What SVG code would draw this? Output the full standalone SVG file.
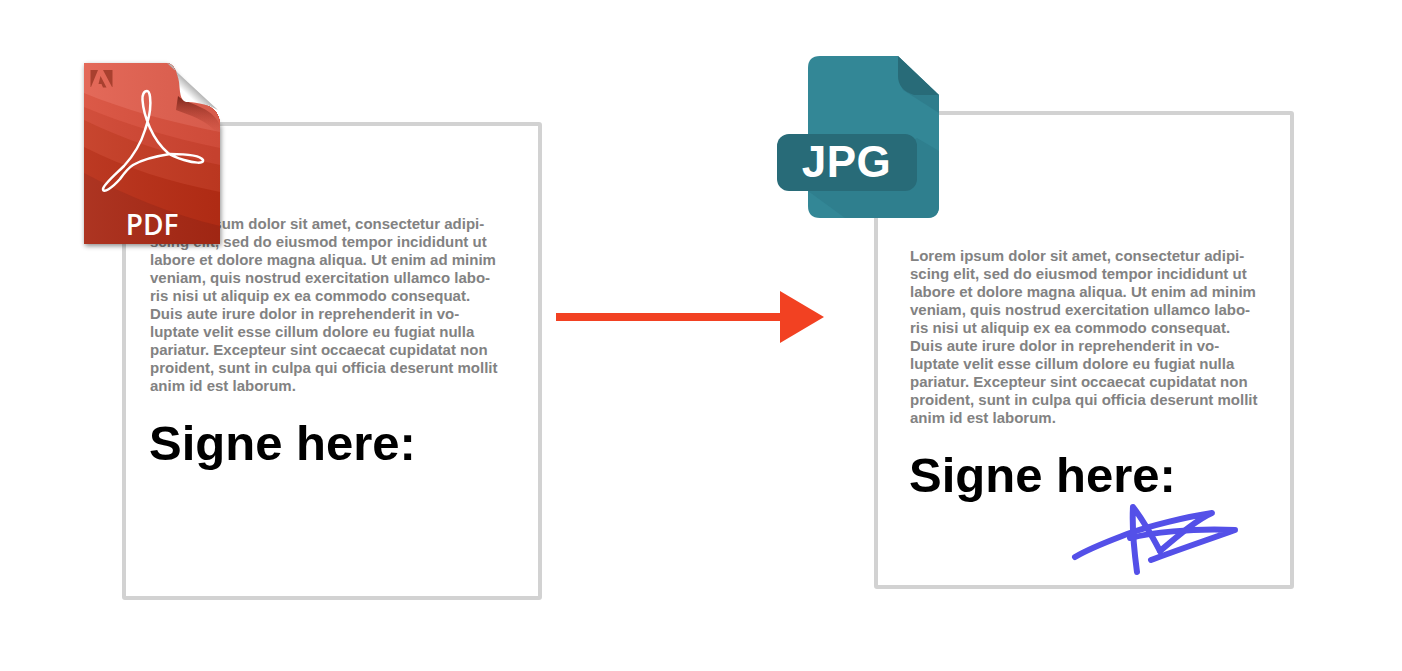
<svg xmlns="http://www.w3.org/2000/svg" width="1402" height="671" viewBox="0 0 1402 671">
<style>
.page{fill:#fff;stroke:#d2d2d2;stroke-width:4}
.body{font-family:"Liberation Sans",Arial,sans-serif;font-weight:700;font-size:15px;fill:#828282}
.sign{font-family:"Liberation Sans",Arial,sans-serif;font-weight:700;font-size:49px;fill:#000}
.sig{fill:none;stroke:#5450e8;stroke-width:6;stroke-linecap:round;stroke-linejoin:round}
</style>
<defs>
<linearGradient id="curl" x1="0" y1="1" x2="1" y2="0"><stop offset="0" stop-color="#fff"/><stop offset=".36" stop-color="#fff"/><stop offset=".5" stop-color="#b5b5b5"/></linearGradient>
<linearGradient id="foldshade" x1="0" y1="0" x2="0" y2="1"><stop offset="0" stop-color="#7e2418"/><stop offset="1" stop-color="#d9503f" stop-opacity="0"/></linearGradient>
<linearGradient id="gloss" x1="0" y1="0" x2="1" y2="0"><stop offset="0" stop-color="#fff" stop-opacity=".06"/><stop offset="1" stop-color="#000" stop-opacity=".05"/></linearGradient>
<filter id="sh" x="-10%" y="-10%" width="125%" height="125%"><feDropShadow dx="1" dy="2" stdDeviation="2.5" flood-color="#000" flood-opacity=".45"/></filter>
<clipPath id="pdfclip"><path d="M84 63H167C174 64 177 72 179 82C180 92 180 101 190 102C206 103 220 108 220 125V244H84Z"/></clipPath>
<clipPath id="jpgclip"><path d="M820 56H898L939 95V206Q939 218 927 218H820Q808 218 808 206V68Q808 56 820 56Z"/></clipPath>
</defs>

<g id="doc-left">
<rect class="page" x="124" y="124" width="416" height="474" rx="1"/>
<text class="body"><tspan x="150" y="229">Lorem ipsum dolor sit amet, consectetur adipi-</tspan><tspan x="150" y="247">scing elit, sed do eiusmod tempor incididunt ut</tspan><tspan x="150" y="265">labore et dolore magna aliqua. Ut enim ad minim</tspan><tspan x="150" y="283">veniam, quis nostrud exercitation ullamco labo-</tspan><tspan x="150" y="301">ris nisi ut aliquip ex ea commodo consequat.</tspan><tspan x="150" y="319">Duis aute irure dolor in reprehenderit in vo-</tspan><tspan x="150" y="337">luptate velit esse cillum dolore eu fugiat nulla</tspan><tspan x="150" y="355">pariatur. Excepteur sint occaecat cupidatat non</tspan><tspan x="150" y="373">proident, sunt in culpa qui officia deserunt mollit</tspan><tspan x="150" y="391">anim id est laborum.</tspan></text>
<text class="sign" x="149" y="460">Signe here:</text>
</g>

<g id="doc-right">
<rect class="page" x="876" y="113" width="416" height="474" rx="1"/>
<text class="body"><tspan x="910" y="261">Lorem ipsum dolor sit amet, consectetur adipi-</tspan><tspan x="910" y="279">scing elit, sed do eiusmod tempor incididunt ut</tspan><tspan x="910" y="297">labore et dolore magna aliqua. Ut enim ad minim</tspan><tspan x="910" y="315">veniam, quis nostrud exercitation ullamco labo-</tspan><tspan x="910" y="333">ris nisi ut aliquip ex ea commodo consequat.</tspan><tspan x="910" y="351">Duis aute irure dolor in reprehenderit in vo-</tspan><tspan x="910" y="369">luptate velit esse cillum dolore eu fugiat nulla</tspan><tspan x="910" y="387">pariatur. Excepteur sint occaecat cupidatat non</tspan><tspan x="910" y="405">proident, sunt in culpa qui officia deserunt mollit</tspan><tspan x="910" y="423">anim id est laborum.</tspan></text>
<text class="sign" x="909" y="492">Signe here:</text>
</g>

<g id="signature">
<path class="sig" d="M1075 557C1092 547 1112 540 1130 533C1150 526 1185 517 1212 513C1198 519 1180 534 1160 551"/>
<path class="sig" d="M1130 538C1150 533 1190 528 1235 530C1210 539 1175 551 1151 560"/>
<path class="sig" d="M1137 572C1134 550 1132 525 1133 507C1143 520 1152 536 1160 551"/>
</g>

<g id="pdf-icon">
<path d="M84 63H167L220 125V244H84Z" fill="#000" filter="url(#sh)"/>
<g clip-path="url(#pdfclip)">
<rect x="84" y="63" width="136" height="181" fill="#a82814"/>
<path d="M84 63H220V226C170 214 125 195 84 173Z" fill="#b82d15"/>
<path d="M84 63H220V192C170 182 125 168 84 147Z" fill="#c43a22"/>
<path d="M84 63H220V165C170 155 125 140 84 120Z" fill="#cf4430"/>
<path d="M84 63H220V148C170 138 125 124 84 107Z" fill="#d94f3c"/>
<path d="M84 63H220V132C170 122 125 110 84 93Z" fill="#e2604f"/>
<path d="M178 96C186 104 212 106 220 125V136C205 118 190 116 176 110Z" fill="url(#foldshade)"/>
<rect x="84" y="63" width="136" height="181" fill="url(#gloss)"/>
</g>
<path d="M167 63L218 110C206 103 192 102 186 102C180 100 180 92 179 82C177 72 174 64 167 63Z" fill="url(#curl)"/>
<path d="M90.5 70H98L91 87H90.5ZM103 70H112.5V87H112ZM100.5 76L106.5 87.5H103L101.5 84H98.5Z" fill="#a8402f"/>
<path d="M147 91C150 91 151 100 150 110C149 118 147 124 145 130C141 143 134 155 124 166C116 174 104 184 103 189C103 194 112 188 120 179C125 172 128 168 133 165C143 159 157 156 170 154C182 154 200 155 203 160C204 164 194 163 184 160C177 158 172 156 168 153C160 146 154 137 150 128C146 119 143 108 142.5 100C142 95 144 91 147 91Z" fill="none" stroke="#fff" stroke-width="2.5" stroke-linejoin="round"/>
<text x="152" y="235" text-anchor="middle" font-family="'Open Sans','Noto Sans',sans-serif" font-weight="600" font-size="28" fill="#fff">PDF</text>
</g>

<g id="jpg-icon">
<path d="M820 56H898L939 95V206Q939 218 927 218H820Q808 218 808 206V68Q808 56 820 56Z" fill="#338796"/>
<g clip-path="url(#jpgclip)">
<path d="M898 78L903 90L939 113V95Z" fill="#2f7d8c"/>
<path d="M917 138L939 151V218H845L808 191V190Z" fill="#2f7f8e"/>
</g>
<path d="M898 56L939 95H914Q898 90 898 76Z" fill="#286b78"/>
<rect x="777" y="134" width="140" height="57" rx="12" fill="#286b78"/>
<text x="846.5" y="177" text-anchor="middle" font-family="'Liberation Sans',Arial,sans-serif" font-weight="700" font-size="44" letter-spacing=".5" fill="#fff">JPG</text>
</g>

<g id="connectors">
<path d="M556 317H785" stroke="#f24122" stroke-width="8" fill="none"/>
<path d="M780 291L824 317L780 343Z" fill="#f24122"/>
</g>
</svg>
